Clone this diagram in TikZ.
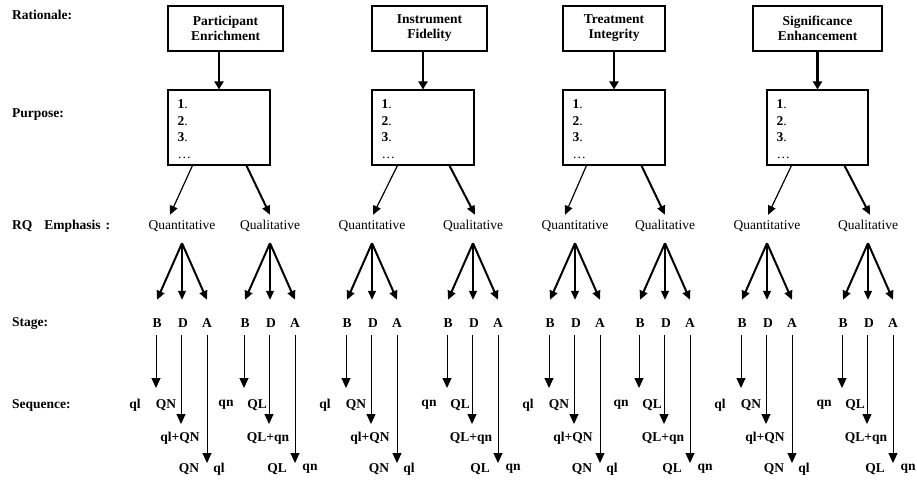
\documentclass[tikz,border=0pt]{standalone}
\usepackage{fontspec}
\setmainfont{Liberation Serif}
\usetikzlibrary{arrows.meta,calc}
\begin{document}
\begin{tikzpicture}[x=1pt,y=-1pt,
  every node/.style={inner sep=0pt, font=\fontsize{13.5}{15}\selectfont},
  lbl/.style={anchor=west, font=\fontsize{13.5}{15}\selectfont\bfseries},
  topbox/.style={draw, line width=1.1pt, minimum height=45pt, align=center,
    font=\fontsize{13.5}{15}\selectfont\bfseries},
  pbox/.style={draw, line width=1.1pt, minimum height=75pt},
  plist/.style={anchor=north west, align=left, font=\fontsize{13.5}{16.5}\selectfont},
  rq/.style={text height=9pt, text depth=3pt},
  stg/.style={text height=9pt, text depth=3pt, font=\fontsize{13.5}{15}\selectfont\bfseries},
  seq/.style={font=\fontsize{13.5}{15}\selectfont\bfseries},
  bigarr/.style={line width=2.2pt, -{Triangle[length=8pt,width=9pt]}},
  thinarr/.style={line width=1.2pt, -{Triangle[length=9pt,width=8pt]}},
  thickarr/.style={line width=2pt, -{Triangle[length=9pt,width=8pt]}},
  stgarr/.style={line width=1pt, -{Triangle[length=10pt,width=9pt]}}
]
\useasboundingbox (0,0) rectangle (917,480);
% left labels
\node[lbl] (lr) at (12,15) {Rationale:};
\node[lbl] (lp) at (12,115) {Purpose:};
\node[lbl] (le) at (12,226) {RQ\hspace{12pt}Emphasis\hspace{5pt}:};
\node[lbl] (ls) at (12,324) {Stage:};
\node[lbl] (lq) at (12,405) {Sequence:};
% top boxes
\node[topbox, minimum width=115pt] (t1) at (225.5,28.5) {Participant\\Enrichment};
\node[topbox, minimum width=115pt] (t2) at (429.5,28.5) {Instrument\\Fidelity};
\node[topbox, minimum width=102pt] (t3) at (614,28.5) {Treatment\\Integrity};
\node[topbox, minimum width=129pt] (t4) at (817.5,28.5) {Significance\\Enhancement};
% purpose boxes
\node[pbox, minimum width=102pt] (p1) at (219,127.5) {};
\node[pbox, minimum width=102pt] (p2) at (423,127.5) {};
\node[pbox, minimum width=102pt] (p3) at (614,127.5) {};
\node[pbox, minimum width=101pt] (p4) at (817.5,127.5) {};
\foreach \i in {1,2,3,4}{
  \node[plist] (pl\i) at ([xshift=10pt,yshift=-10pt]p\i.north west)
    {\textbf{1}.\\\textbf{2}.\\\textbf{3}.\\…};
  \draw[bigarr] (p\i.north |- t\i.south) -- (p\i.north);
}
% groups
\foreach \g/\d in {1/182,2/270,3/372,4/473,5/575,6/665,7/767,8/868}{
  \ifodd\g
    \node[rq] (rq\g) at (\d,226) {Quantitative};
    \node[seq] (sa\g) at (\d-47,405) {ql};
    \node[seq] (sb\g) at (\d-16,405) {QN};
    \node[seq] (sc\g) at (\d-2,438) {ql+QN};
    \node[seq] (sd\g) at (\d+7,469) {QN};
    \node[seq] (se\g) at (\d+37,469) {ql};
  \else
    \node[rq] (rq\g) at (\d,226) {Qualitative};
    \node[seq] (sa\g) at (\d-44,405) {qn};
    \node[seq] (sb\g) at (\d-13,405) {QL};
    \node[seq] (sc\g) at (\d-2,438) {QL+qn};
    \node[seq] (sd\g) at (\d+7,469) {QL};
    \node[seq] (se\g) at (\d+40,469) {qn};
  \fi
  \node[stg] (B\g) at (\d-25,324) {B};
  \node[stg] (D\g) at (\d+1,324) {D};
  \node[stg] (A\g) at (\d+25,324) {A};
  \coordinate (ap\g) at ([yshift=-11pt]rq\g.south);
  \draw[thickarr] (ap\g) -- ([yshift=18pt]B\g.north);
  \draw[thinarr] (ap\g) -- ([yshift=18pt,xshift=-1pt]D\g.north);
  \draw[thickarr] (ap\g) -- ([yshift=18pt]A\g.north);
  \coordinate (eB\g) at (\d-26,388);
  \coordinate (eD\g) at (\d-1,424);
  \coordinate (eA\g) at (\d+25,463);
  \draw[stgarr] ([yshift=-5pt,xshift=-1pt]B\g.south) -- (eB\g);
  \draw[stgarr] ([yshift=-5pt,xshift=-2pt]D\g.south) -- (eD\g);
  \draw[stgarr] ([yshift=-5pt]A\g.south) -- (eA\g);
}
% purpose -> emphasis
\draw[thinarr]  ([xshift=25pt]p1.south west) -- ([xshift=-12pt,yshift=5pt]rq1.north);
\draw[thickarr] ([xshift=79pt]p1.south west) -- ([yshift=5pt]rq2.north);
\draw[thinarr]  ([xshift=26pt]p2.south west) -- ([xshift=1pt,yshift=5pt]rq3.north);
\draw[thickarr] ([xshift=78pt]p2.south west) -- ([xshift=2pt,yshift=5pt]rq4.north);
\draw[thinarr]  ([xshift=24pt]p3.south west) -- ([xshift=-10pt,yshift=5pt]rq5.north);
\draw[thickarr] ([xshift=79pt]p3.south west) -- ([yshift=5pt]rq6.north);
\draw[thinarr]  ([xshift=25pt]p4.south west) -- ([xshift=1pt,yshift=5pt]rq7.north);
\draw[thickarr] ([xshift=78pt]p4.south west) -- ([xshift=2pt,yshift=5pt]rq8.north);
\end{tikzpicture}
\end{document}
